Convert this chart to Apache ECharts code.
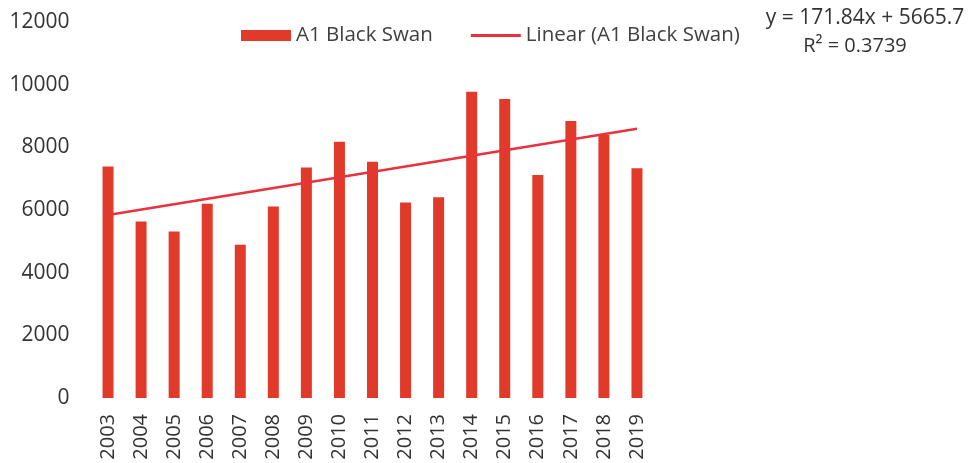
<!DOCTYPE html>
<html>
<head>
<meta charset="utf-8">
<script src="https://cdn.jsdelivr.net/npm/echarts@6/dist/echarts.min.js"></script>
<style>html,body{margin:0;padding:0;background:#fff}#c{width:969px;height:463px}</style>
</head>
<body>
<div id="c"></div>
<script>
const years = ['2003','2004','2005','2006','2007','2008','2009','2010','2011','2012','2013','2014','2015','2016','2017','2018','2019'];
const values = [7390,5630,5310,6200,4890,6110,7360,8180,7540,6240,6410,9770,9540,7120,8840,8390,7330];
const trendStart = 5840;
const trendEnd = 8590;
const yTicks = [0,2000,4000,6000,8000,10000,12000];
const equationLine1 = 'y = 171.84x + 5665.7';
const equationLine2 = 'R² = 0.3739';

const trendData = years.map((y,i)=> i===0 ? trendStart : (i===years.length-1 ? trendEnd : null));
const FONT = 'Open Sans';
const lineIcon = 'path://M0,0H0.5V0.01H0Z M0,4H54V7H0Z M0,10.99H0.5V11H0Z';
const chart = echarts.init(document.getElementById('c'));
chart.setOption({
  animation:false,
  backgroundColor:'#fff',
  textStyle:{fontFamily:FONT},
  grid:{left:91.5,right:315.5,top:22,bottom:65,containLabel:false},
  legend:{
    left:236, top:20, itemGap:38, itemWidth:50, itemHeight:11,
    textStyle:{fontFamily:FONT,fontSize:20.5,color:'#404040'},
    data:[{name:'A1 Black Swan',icon:'rect'},{name:'Linear (A1 Black Swan)',icon:lineIcon}]
  },
  xAxis:{
    type:'category', data:years,
    axisLine:{show:false}, axisTick:{show:false},
    axisLabel:{rotate:90,fontFamily:FONT,fontSize:20,color:'#333',margin:16,interval:0}
  },
  yAxis:{
    type:'value', min:yTicks[0], max:yTicks[yTicks.length-1], interval:2000,
    axisLine:{show:false}, axisTick:{show:false}, splitLine:{show:false},
    axisLabel:{fontFamily:FONT,fontSize:21,color:'#333',margin:22,formatter:v=>String(v)}
  },
  series:[
    {name:'A1 Black Swan',type:'bar',data:values,barWidth:11,itemStyle:{color:'#E23A2A'}},
    {name:'Linear (A1 Black Swan)',type:'line',data:trendData,connectNulls:true,symbol:'none',
     lineStyle:{color:'#E8323C',width:2.5},itemStyle:{color:'#E8323C'},z:3}
  ],
  graphic:[
    {type:'text',x:865,y:18,style:{text:equationLine1,font:'21px "Open Sans"',fill:'#333',textAlign:'center',textVerticalAlign:'middle'}},
    {type:'text',x:855,y:46,style:{text:equationLine2,font:'20px "Open Sans"',fill:'#333',textAlign:'center',textVerticalAlign:'middle'}}
  ]
});
</script>
</body>
</html>
